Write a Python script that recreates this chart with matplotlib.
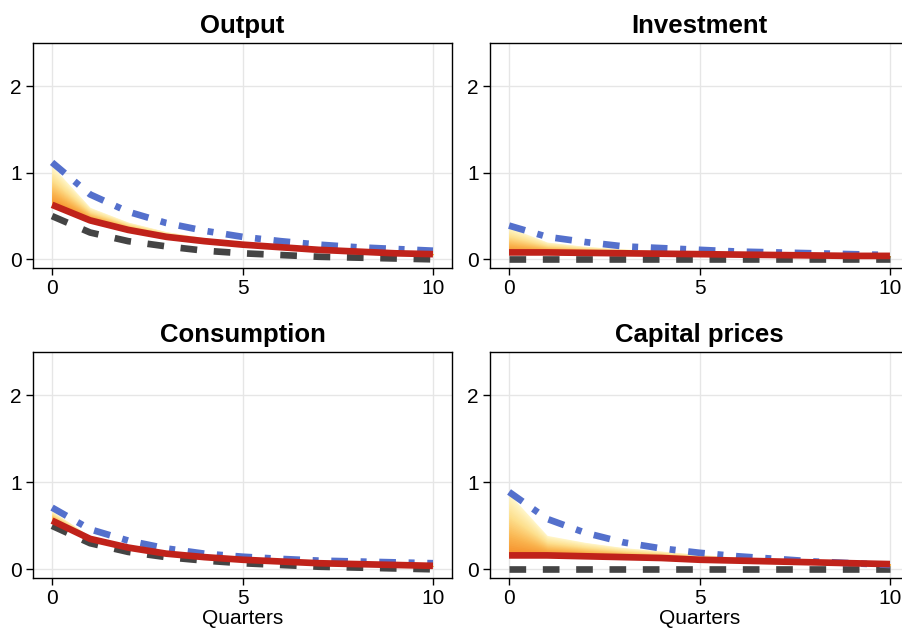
"""
Impulse responses of four variables, 2x2 panel grid.
"""

import numpy as np
import matplotlib
matplotlib.use('Agg')
from matplotlib import pyplot as plt
from matplotlib.colors import LinearSegmentedColormap

plt.rcParams['font.family'] = ['Liberation Sans', 'DejaVu Sans']

quarters = list(range(11))
titles = ['Output', 'Investment', 'Consumption', 'Capital prices']

# Black dashed response
output_base = [0.50, 0.31, 0.21, 0.15, 0.10, 0.07, 0.05, 0.03, 0.02, 0.01, 0.00]
invest_base = [0.00, 0.00, 0.00, 0.00, 0.00, 0.00, 0.00, 0.00, 0.00, 0.00, 0.00]
cons_base = [0.50, 0.30, 0.20, 0.14, 0.10, 0.07, 0.05, 0.03, 0.02, 0.01, 0.00]
price_base = [0.00, 0.00, 0.00, 0.00, 0.00, 0.00, 0.00, 0.00, 0.00, 0.00, 0.00]

# Red median response
output_mid = [0.63, 0.45, 0.34, 0.26, 0.21, 0.17, 0.14, 0.11, 0.09, 0.07, 0.06]
invest_mid = [0.08, 0.08, 0.075, 0.07, 0.065, 0.06, 0.055, 0.05, 0.045, 0.04, 0.04]
cons_mid = [0.56, 0.35, 0.25, 0.18, 0.14, 0.11, 0.09, 0.07, 0.06, 0.05, 0.04]
price_mid = [0.16, 0.16, 0.15, 0.14, 0.13, 0.11, 0.10, 0.09, 0.08, 0.07, 0.06]

# Blue dash-dot response
output_alt = [1.12, 0.75, 0.55, 0.42, 0.33, 0.26, 0.21, 0.17, 0.14, 0.12, 0.10]
invest_alt = [0.39, 0.26, 0.20, 0.15, 0.13, 0.11, 0.09, 0.08, 0.07, 0.06, 0.05]
cons_alt = [0.71, 0.46, 0.33, 0.24, 0.18, 0.145, 0.12, 0.10, 0.09, 0.08, 0.07]
price_alt = [0.89, 0.58, 0.42, 0.31, 0.24, 0.19, 0.15, 0.12, 0.09, 0.07, 0.05]

# Upper / lower edge of the shaded fan
output_hi = [1.08, 0.60, 0.43, 0.32, 0.25, 0.20, 0.16, 0.13, 0.10, 0.08, 0.07]
invest_hi = [0.37, 0.20, 0.15, 0.12, 0.10, 0.085, 0.07, 0.06, 0.05, 0.045, 0.04]
cons_hi = [0.67, 0.38, 0.27, 0.20, 0.15, 0.12, 0.10, 0.08, 0.065, 0.055, 0.045]
price_hi = [0.87, 0.39, 0.31, 0.25, 0.21, 0.17, 0.14, 0.11, 0.09, 0.07, 0.06]

output_lo = [0.60, 0.43, 0.33, 0.25, 0.20, 0.16, 0.13, 0.10, 0.08, 0.065, 0.05]
invest_lo = [0.06, 0.06, 0.055, 0.05, 0.045, 0.04, 0.035, 0.03, 0.03, 0.025, 0.02]
cons_lo = [0.54, 0.34, 0.24, 0.17, 0.13, 0.10, 0.08, 0.065, 0.055, 0.045, 0.035]
price_lo = [0.14, 0.14, 0.13, 0.12, 0.11, 0.09, 0.08, 0.07, 0.06, 0.045, 0.03]

panels = [
    (output_base, output_mid, output_alt, output_hi, output_lo),
    (invest_base, invest_mid, invest_alt, invest_hi, invest_lo),
    (cons_base, cons_mid, cons_alt, cons_hi, cons_lo),
    (price_base, price_mid, price_alt, price_hi, price_lo),
]

W, H = 902, 634
# left, top, right, bottom in pixels
boxes = [(33, 43, 452, 268), (490, 43, 909, 268),
         (33, 352, 452, 578), (490, 352, 909, 578)]

fig = plt.figure(figsize=(W / 100, H / 100), dpi=100)
fan_cmap = LinearSegmentedColormap.from_list(
    'fan', ['#f58a25', '#fab550', '#fde08e', '#fff6c8'])
n_band = 30

for i, (title, data) in enumerate(zip(titles, panels)):
    base, mid, alt, hi, lo = [np.array(d) for d in data]
    l, t, r, b = boxes[i]
    ax = fig.add_axes([l / W, 1 - b / H, (r - l) / W, (b - t) / H])

    # shaded fan: widest (palest) band first, narrower orange bands on top
    for k in range(n_band, 0, -1):
        f = k / n_band
        c = fan_cmap(f)
        ax.fill_between(quarters, mid + (lo - mid) * f, mid + (hi - mid) * f,
                        color=c, lw=0, zorder=1)

    ax.plot(quarters, base, color='#3a3a3a', lw=4.8, dashes=(2.5, 2.5),
            alpha=0.95, zorder=3)
    ax.plot(quarters, alt, color='#5470cc', lw=4.8, dashes=(2.5, 1.9, 0.9, 1.9),
            zorder=4)
    ax.plot(quarters, mid, color='#c0221a', lw=4.8, zorder=5,
            solid_capstyle='butt')

    ax.set_xlim(-0.5, 10.5)
    ax.set_ylim(-0.1, 2.5)
    ax.set_xticks([0, 5, 10])
    ax.set_yticks([0, 1, 2])
    ax.grid(True, color='#e6e6e6', lw=1)
    ax.set_axisbelow(True)
    ax.tick_params(labelsize=15, length=5, width=1, pad=3)
    for s in ax.spines.values():
        s.set_linewidth(1)
    ax.set_title(title, fontsize=18.5, fontweight='bold', pad=7)
    if i >= 2:
        ax.set_xlabel('Quarters', fontsize=15, labelpad=1)

fig.savefig('out.png', dpi=100)
